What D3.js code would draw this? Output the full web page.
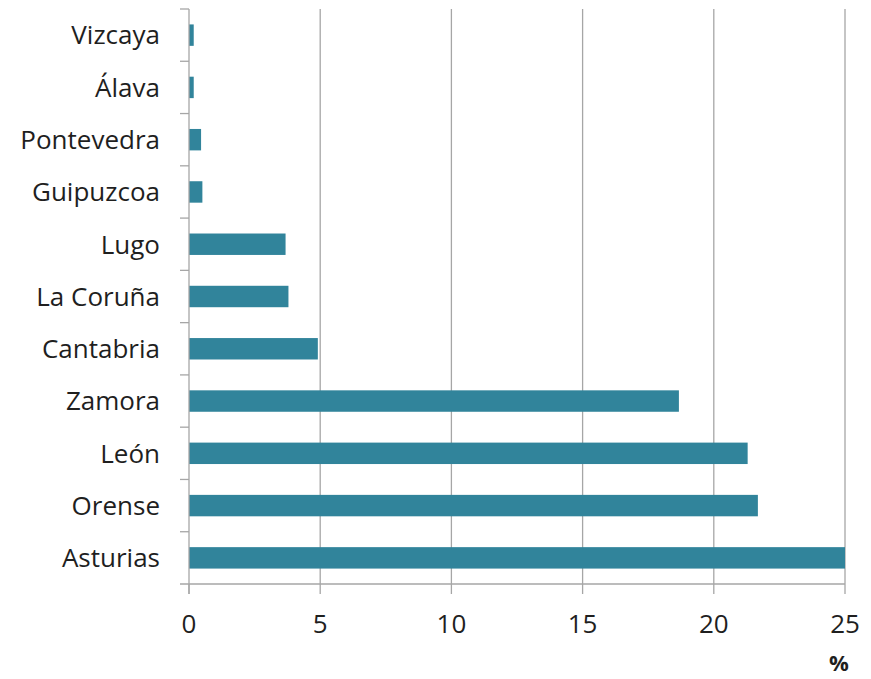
<!DOCTYPE html>
<html>
<head>
<meta charset="utf-8">
<script src="https://cdn.jsdelivr.net/npm/d3@7"></script>
<style>
  html, body { margin: 0; padding: 0; background: #fff; }
  svg { display: block; }
  text { font-family: "Open Sans", "Noto Sans", sans-serif; fill: #1f1f1f; }
</style>
</head>
<body>
<svg id="chart" width="871" height="679"></svg>
<script>
// Provinces, listed top to bottom
const provinces = ["Vizcaya", "Álava", "Pontevedra", "Guipuzcoa", "Lugo", "La Coruña",
                   "Cantabria", "Zamora", "León", "Orense", "Asturias"];
// Share (%) for each province
const shares = [0.18, 0.18, 0.46, 0.51, 3.68, 3.79, 4.91, 18.67, 21.29, 21.68, 25.0];
const xTicks = [0, 5, 10, 15, 20, 25];
const unitLabel = "%";

(function draw() {
  const rows = provinces.map((p, i) => ({ name: p, value: shares[i] }));

  const svg = d3.select("#chart");
  const plotLeft = 189, plotRight = 845, plotTop = 9, plotBottom = 584;

  const x = d3.scaleLinear().domain([0, 25]).range([plotLeft, plotRight]);
  const y = d3.scaleBand().domain(provinces).range([plotTop, plotBottom])
    .paddingInner(0.59).paddingOuter(0.295);
  const yOuter = d3.scaleBand().domain(provinces).range([plotTop, plotBottom]);

  const gridColor = "#a6a6a6";

  // vertical gridlines
  svg.append("g").selectAll("line").data(xTicks.slice(1)).join("line")
    .attr("x1", d => x(d)).attr("x2", d => x(d))
    .attr("y1", plotTop).attr("y2", plotBottom)
    .attr("stroke", gridColor).attr("stroke-width", 1.3);

  // bars
  svg.append("g").selectAll("rect").data(rows).join("rect")
    .attr("x", x(0))
    .attr("y", d => y(d.name))
    .attr("width", d => x(d.value) - x(0))
    .attr("height", y.bandwidth())
    .attr("fill", "#31849b");

  // y axis: line plus category boundary ticks
  const yAxis = svg.append("g");
  yAxis.append("line")
    .attr("x1", plotLeft).attr("x2", plotLeft).attr("y1", plotTop).attr("y2", plotBottom + 10)
    .attr("stroke", gridColor).attr("stroke-width", 1.3);
  const boundaries = provinces.map(p => yOuter(p));
  yAxis.selectAll("line.tick").data(boundaries).join("line").attr("class", "tick")
    .attr("x1", plotLeft - 9).attr("x2", plotLeft)
    .attr("y1", d => d).attr("y2", d => d)
    .attr("stroke", gridColor).attr("stroke-width", 1.3);
  yAxis.selectAll("text").data(provinces).join("text")
    .attr("x", 160)
    .attr("y", d => yOuter(d) + yOuter.bandwidth() / 2)
    .attr("dy", "0.36em")
    .attr("text-anchor", "end")
    .attr("font-size", 26)
    .text(d => d);

  // x axis
  const xAxis = svg.append("g");
  xAxis.append("line")
    .attr("x1", plotLeft - 9).attr("x2", plotRight).attr("y1", plotBottom).attr("y2", plotBottom)
    .attr("stroke", gridColor).attr("stroke-width", 1.3);
  xAxis.selectAll("line.tick").data(xTicks).join("line").attr("class", "tick")
    .attr("x1", d => x(d)).attr("x2", d => x(d))
    .attr("y1", plotBottom).attr("y2", plotBottom + 10)
    .attr("stroke", gridColor).attr("stroke-width", 1.3);
  xAxis.selectAll("text").data(xTicks).join("text")
    .attr("x", d => x(d))
    .attr("y", 633)
    .attr("text-anchor", "middle")
    .attr("font-size", 26)
    .text(d => d);

  svg.append("text")
    .attr("x", 839).attr("y", 671)
    .attr("text-anchor", "middle")
    .attr("font-size", 22)
    .attr("font-weight", "bold")
    .text(unitLabel);
})();
</script>
</body>
</html>
